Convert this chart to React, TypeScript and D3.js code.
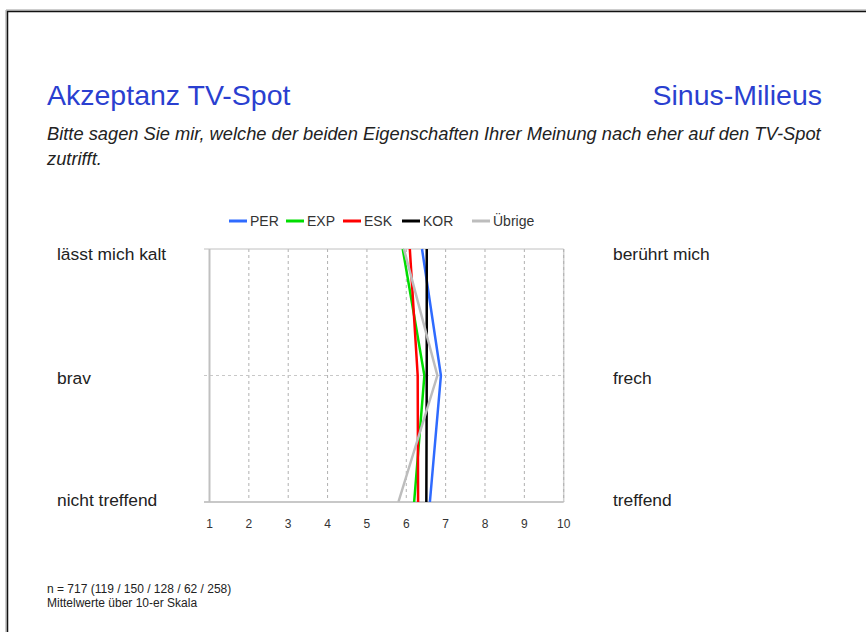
import React from "react";
import * as d3 from "d3";

const leftLabels = ["lässt mich kalt", "brav", "nicht treffend"];
const rightLabels = ["berührt mich", "frech", "treffend"];
const ticks = [1, 2, 3, 4, 5, 6, 7, 8, 9, 10];

const seriesNames = ["PER", "EXP", "ESK", "KOR", "Übrige"];
const seriesColors = ["#2f6bff", "#00dd00", "#ff0000", "#000000", "#bdbdbd"];
const perValues = [6.4, 6.88, 6.6];
const expValues = [5.91, 6.46, 6.2];
const eskValues = [6.09, 6.29, 6.3];
const korValues = [6.52, 6.52, 6.51];
const uebrigeValues = [5.94, 6.79, 5.8];
const seriesValues = [perValues, expValues, eskValues, korValues, uebrigeValues];

const titleText = "Akzeptanz TV-Spot";
const rightTitle = "Sinus-Milieus";
const questionLines = [
  "Bitte sagen Sie mir, welche der beiden Eigenschaften Ihrer Meinung nach eher auf den TV-Spot",
  "zutrifft.",
];
const footLines = ["n = 717 (119 / 150 / 128 / 62 / 258)", "Mittelwerte über 10-er Skala"];

const W = 866;
const H = 632;
const FONT = "'Liberation Sans', Arial, sans-serif";

export default function App() {
  const x = d3.scaleLinear().domain([1, 10]).range([209.5, 563.7]);
  const y = d3.scalePoint<number>().domain([0, 1, 2]).range([249, 502]);
  const line = d3
    .line<number>()
    .x((d) => x(d))
    .y((_, i) => y(i) as number);

  const legendX = [229, 286, 343, 402, 472];
  const labelDy = [11, 8, 4];

  return (
    <svg
      width={W}
      height={H}
      style={{ position: "absolute", left: 0, top: 0, background: "#fff" }}
      fontFamily={FONT}
    >
      {/* frame */}
      <line x1={6} y1={10} x2={W} y2={10} stroke="#9a9a9a" strokeWidth={1} />
      <line x1={7} y1={11.5} x2={W} y2={11.5} stroke="#111" strokeWidth={1.5} />
      <line x1={6} y1={10} x2={6} y2={H} stroke="#9a9a9a" strokeWidth={1} />
      <line x1={7.5} y1={11} x2={7.5} y2={H} stroke="#111" strokeWidth={1.5} />

      {/* titles */}
      <text x={47} y={105} fontSize={28.5} fill="#2a3fd0">
        {titleText}
      </text>
      <text x={822} y={105} fontSize={28.5} fill="#2a3fd0" textAnchor="end">
        {rightTitle}
      </text>
      {questionLines.map((t, i) => (
        <text key={i} x={47} y={140 + i * 25} fontSize={18.3} fontStyle="italic" fill="#222">
          {t}
        </text>
      ))}

      {/* legend */}
      {seriesNames.map((n, i) => (
        <g key={n}>
          <line
            x1={legendX[i]}
            x2={legendX[i] + 18}
            y1={221}
            y2={221}
            stroke={seriesColors[i]}
            strokeWidth={3}
          />
          <text x={legendX[i] + 21} y={226} fontSize={14} fill="#333">
            {n}
          </text>
        </g>
      ))}

      {/* grid */}
      {ticks.slice(1, 9).map((t) => (
        <line
          key={t}
          x1={x(t)}
          x2={x(t)}
          y1={249}
          y2={502}
          stroke="#b0b0b0"
          strokeDasharray="3,3"
        />
      ))}
      <line x1={x(10)} x2={x(10)} y1={249} y2={502} stroke="#d0d0d0" strokeWidth={1.5} />
      <line x1={x(10)} x2={x(10)} y1={249} y2={502} stroke="#b0b0b0" strokeDasharray="3,3" />
      <line x1={204} x2={x(10)} y1={y(1) as number} y2={y(1) as number} stroke="#c8c8c8" strokeDasharray="3,3" />
      <line x1={204} x2={x(10)} y1={249} y2={249} stroke="#c0c0c0" strokeWidth={1} />
      <line x1={204} x2={x(10)} y1={502} y2={502} stroke="#c8c8c8" strokeWidth={2} />
      <line x1={x(1)} x2={x(1)} y1={249} y2={502} stroke="#c0c0c0" strokeWidth={2} />

      {/* series */}
      {seriesValues.map((vals, i) => (
        <path
          key={i}
          d={line(vals) || ""}
          fill="none"
          stroke={seriesColors[i]}
          strokeWidth={2.5}
          strokeLinejoin="miter"
        />
      ))}

      {/* tick labels */}
      {ticks.map((t) => (
        <text key={t} x={x(t)} y={528} fontSize={12} fill="#333" textAnchor="middle">
          {t}
        </text>
      ))}

      {/* row labels */}
      {leftLabels.map((l, i) => (
        <text key={l} x={57} y={(y(i) as number) + labelDy[i]} fontSize={17.4} fill="#222">
          {l}
        </text>
      ))}
      {rightLabels.map((l, i) => (
        <text key={l} x={613} y={(y(i) as number) + labelDy[i]} fontSize={17.4} fill="#222">
          {l}
        </text>
      ))}

      {/* footnote */}
      {footLines.map((t, i) => (
        <text key={i} x={47} y={593 + i * 14} fontSize={12} fill="#222">
          {t}
        </text>
      ))}
    </svg>
  );
}
